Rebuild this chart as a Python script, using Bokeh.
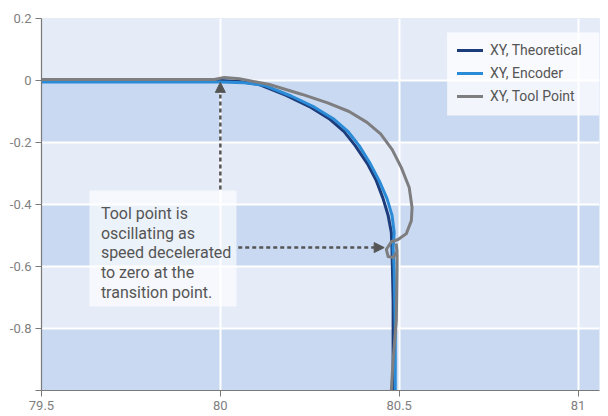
from bokeh.plotting import figure
from bokeh.models import (Range1d, FixedTicker, BoxAnnotation, Label, Arrow,
                          NormalHead, Legend, LegendItem)
from bokeh.embed import file_html
from bokeh.resources import INLINE

# ---- data ----
theo_x = [79.5, 80.0, 80.053, 80.109, 80.184, 80.249, 80.304, 80.346, 80.377,
          80.411, 80.436, 80.455, 80.469, 80.478, 80.480, 80.483, 80.483]
theo_y = [0.0, 0.0, -0.003, -0.013, -0.048, -0.084, -0.123, -0.165, -0.210,
          -0.268, -0.323, -0.381, -0.435, -0.490, -0.548, -0.710, -1.0]

enc_x = [79.5, 80.0, 80.067, 80.123, 80.198, 80.263, 80.318, 80.358, 80.388,
         80.419, 80.444, 80.466, 80.480, 80.486, 80.483, 80.486, 80.489, 80.489]
enc_y = [-0.005, -0.005, -0.007, -0.016, -0.050, -0.086, -0.125, -0.166, -0.210,
         -0.268, -0.323, -0.381, -0.435, -0.490, -0.539, -0.613, -0.806, -1.0]

tool_x = [79.5, 79.983, 80.011, 80.053, 80.137, 80.229, 80.300, 80.360, 80.410,
          80.448, 80.480, 80.506, 80.528, 80.536, 80.534, 80.520, 80.497, 80.478,
          80.464, 80.469, 80.483, 80.494, 80.492, 80.494, 80.494, 80.492, 80.483,
          80.478]
tool_y = [0.003, 0.003, 0.010, 0.006, -0.013, -0.045, -0.072, -0.100, -0.135,
          -0.172, -0.222, -0.281, -0.345, -0.410, -0.452, -0.494, -0.513, -0.520,
          -0.545, -0.568, -0.571, -0.552, -0.530, -0.560, -0.613, -0.774, -0.903,
          -1.0]

series_names = ["XY, Theoretical", "XY, Encoder", "XY, Tool Point"]
series_colors = ["#1c3c7c", "#2b8bd6", "#7e7e80"]

x_ticks = [79.5, 80.0, 80.5, 81.0]
x_tick_labels = ["79.5", "80", "80.5", "81"]
y_ticks = [-1.0, -0.8, -0.6, -0.4, -0.2, 0.0, 0.2]
y_tick_labels = ["", "-0.8", "-0.6", "-0.4", "-0.2", "0", "0.2"]

note_text = "Tool point is\noscillating as\nspeed decelerated\nto zero at the\ntransition point."
note_box = dict(left=79.634, right=80.045, top=-0.355, bottom=-0.729)
note_pos = (79.666, -0.398)
arrow_up = (80.0, -0.352, 80.0, -0.006)
arrow_right = (80.05, -0.539, 80.458, -0.539)
legend_box = dict(left=80.634, right=81.06, top=0.155, bottom=-0.113)

# ---- figure ----
p = figure(width=604, height=412,
           x_range=Range1d(79.5, 81.06), y_range=Range1d(-1.0, 0.2),
           output_backend="svg", toolbar_location=None,
           min_border_left=41, min_border_right=5, min_border_top=18,
           min_border_bottom=22)

p.outline_line_color = None
p.background_fill_color = "#c9d9f1"
p.border_fill_color = "white"

p.ygrid.ticker = FixedTicker(ticks=y_ticks)
p.xgrid.ticker = FixedTicker(ticks=x_ticks)
p.ygrid.band_fill_color = "#e5ecf8"
p.ygrid.band_fill_alpha = 1.0
p.ygrid.grid_line_color = "white"
p.ygrid.grid_line_width = 2
p.xgrid.grid_line_color = "white"
p.xgrid.grid_line_width = 2
p.ygrid.level = "image"
p.xgrid.level = "underlay"

for ax, ticks, labels in ((p.xaxis[0], x_ticks, x_tick_labels),
                          (p.yaxis[0], y_ticks, y_tick_labels)):
    ax.ticker = FixedTicker(ticks=ticks)
    ax.major_label_overrides = {t: l for t, l in zip(ticks, labels)}
    ax.axis_line_color = "#7a7a7a"
    ax.axis_line_width = 1.2
    ax.major_tick_line_color = "#7a7a7a"
    ax.major_tick_out = 6
    ax.major_tick_in = 0
    ax.minor_tick_line_color = None
    ax.major_label_text_color = "#808080"
    ax.major_label_text_font = "Roboto"
    ax.major_label_text_font_size = "13px"
    ax.major_label_standoff = 4

# note box, legend background and arrows
p.add_layout(BoxAnnotation(**note_box, fill_color="white", fill_alpha=0.65,
                           line_color=None, level="underlay"))
p.add_layout(BoxAnnotation(**legend_box, fill_color="white", fill_alpha=0.75,
                           line_color=None, level="overlay"))
for (x0, y0, x1, y1) in (arrow_up, arrow_right):
    p.add_layout(Arrow(x_start=x0, y_start=y0, x_end=x1, y_end=y1,
                       line_color="#555555", line_width=2.5, line_dash="4 3",
                       end=NormalHead(size=10, fill_color="#555555",
                                      line_color="#555555", line_width=1)))
p.add_layout(Label(x=note_pos[0], y=note_pos[1], text=note_text,
                   text_font="Roboto", text_font_size="16px",
                   text_color="#555555", text_baseline="top",
                   text_line_height=1.04))

# curves
renderers = []
for xs, ys, c in ((theo_x, theo_y, series_colors[0]),
                  (enc_x, enc_y, series_colors[1]),
                  (tool_x, tool_y, series_colors[2])):
    r = p.line(xs, ys, line_color=c, line_width=3, line_join="round",
               line_cap="round")
    renderers.append(r)

legend = Legend(items=[LegendItem(label=n, renderers=[r])
                       for n, r in zip(series_names, renderers)],
                location=(416, 284), background_fill_alpha=0,
                border_line_color=None,
                label_text_font="Roboto", label_text_font_size="14px",
                label_text_color="#555555", glyph_width=26, glyph_height=20,
                label_height=20, label_standoff=7,
                padding=0, spacing=3, margin=0)
p.add_layout(legend)

open("out.html", "w").write(file_html(p, INLINE))
